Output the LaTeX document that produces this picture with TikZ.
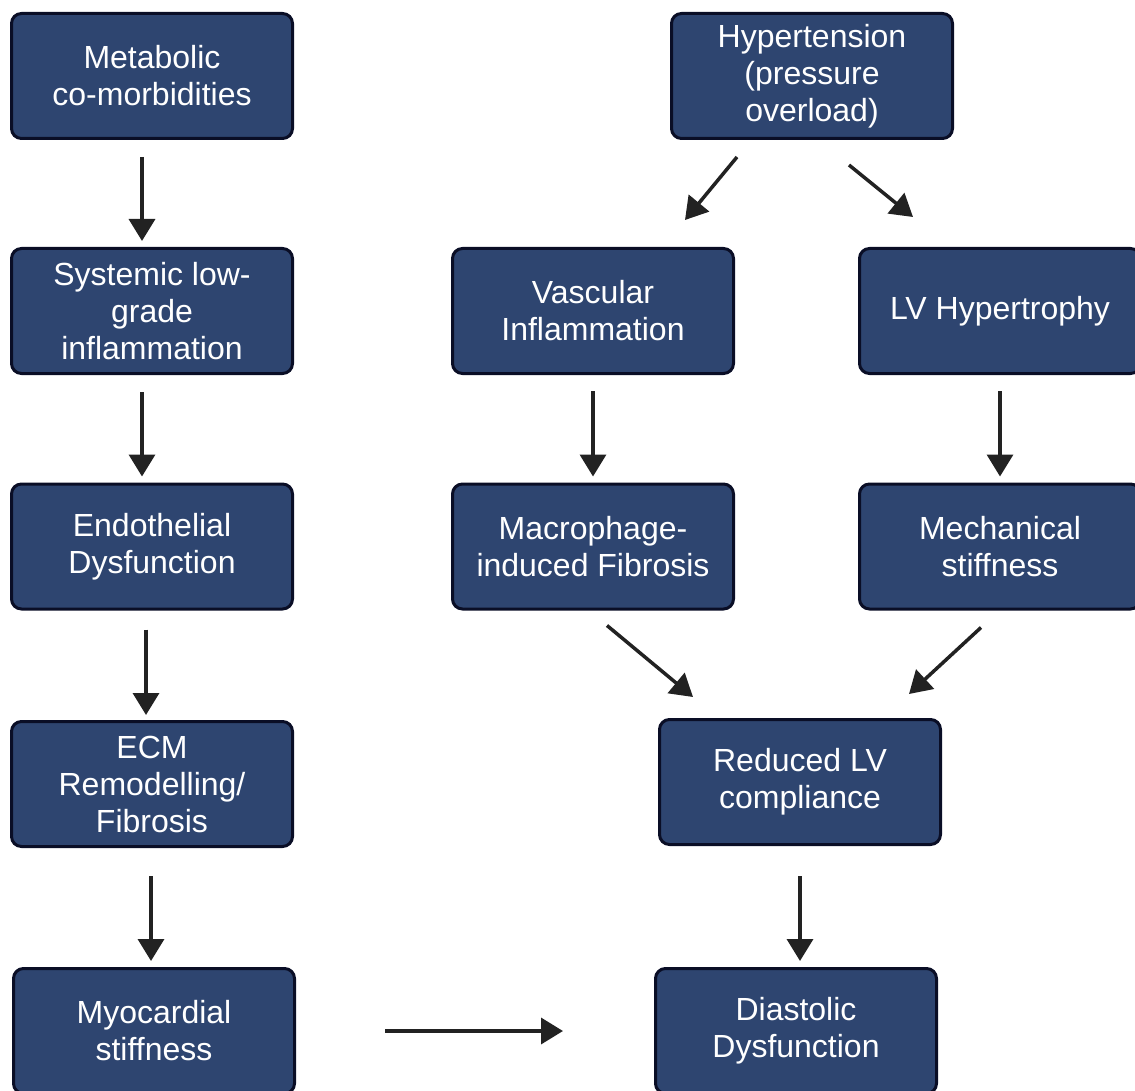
\documentclass[tikz,border=0pt]{standalone}
\usepackage{fontspec}
\setmainfont{Liberation Sans}
\usetikzlibrary{arrows.meta}
\definecolor{boxblue}{RGB}{46,69,112}
\definecolor{boxedge}{RGB}{10,14,38}
\definecolor{arrowgray}{RGB}{34,34,34}
\tikzset{
    stage/.style={draw=boxedge, fill=boxblue, line width=3pt, rounded corners=10pt,
        minimum width=281pt, minimum height=125pt, align=center, text=white,
        font=\fontsize{32}{37}\selectfont},
    flow/.style={draw=arrowgray, line width=3.5pt, -{Triangle[length=22pt,width=26pt]}}
}
\begin{document}
\begin{tikzpicture}[x=1pt, y=-1pt]
    \useasboundingbox (0,0) rectangle (1135,1091);
    % left column
    \node[stage] at (152,76) (met) {Metabolic\\co-morbidities};
    \node[stage] at (152,311) (sys) {Systemic low-\\grade\\inflammation};
    \node[stage] at (152,546.5) (endo) {Endothelial\\Dysfunction};
    \node[stage] at (152,784) (ecm) {ECM\\Remodelling/\\Fibrosis};
    \node[stage] at (154,1031) (myo) {Myocardial\\stiffness};
    % right side
    \node[stage] at (812,76) (hyp) {Hypertension\\(pressure\\overload)};
    \node[stage] at (593,311) (vasc) {Vascular\\Inflammation};
    \node[stage] at (1000,311) (lvh) {LV Hypertrophy};
    \node[stage] at (593,546.5) (macro) {Macrophage-\\induced Fibrosis};
    \node[stage] at (1000,546.5) (mech) {Mechanical\\stiffness};
    \node[stage] at (800,782) (red) {Reduced LV\\compliance};
    \node[stage] at (796,1031) (dias) {Diastolic\\Dysfunction};
    % arrows
    \draw[flow, shorten <=17pt, shorten >=6pt] ([xshift=-10pt]met.south) -- ([xshift=-10pt]sys.north);
    \draw[flow, shorten <=17pt, shorten >=6pt] ([xshift=-10pt]sys.south) -- ([xshift=-10pt]endo.north);
    \draw[flow, shorten <=19pt, shorten >=5pt] ([xshift=-6pt]endo.south) -- ([xshift=-6pt]ecm.north);
    \draw[flow, shorten <=28pt, shorten >=6pt] ([xshift=-1pt]ecm.south) -- ([xshift=-3pt]myo.north);
    \draw[flow] ([xshift=89pt,yshift=0pt]myo.east) -- ([xshift=-91pt,yshift=0pt]dias.west);
    \draw[flow] ([xshift=-75pt,yshift=-17pt]hyp.south) -- ([xshift=92pt,yshift=27pt]vasc.north);
    \draw[flow] ([xshift=37pt,yshift=-25pt]hyp.south) -- ([xshift=-87pt,yshift=30pt]lvh.north);
    \draw[flow, shorten <=16pt, shorten >=6pt] (vasc.south) -- (macro.north);
    \draw[flow, shorten <=16pt, shorten >=6pt] (lvh.south) -- (mech.north);
    \draw[flow] ([xshift=14pt,yshift=-15pt]macro.south) -- ([xshift=-107pt,yshift=21pt]red.north);
    \draw[flow] ([xshift=-19pt,yshift=-17pt]mech.south) -- ([xshift=109pt,yshift=24pt]red.north);
    \draw[flow, shorten <=30pt, shorten >=6pt] (red.south) -- ([xshift=4pt]dias.north);
\end{tikzpicture}
\end{document}
